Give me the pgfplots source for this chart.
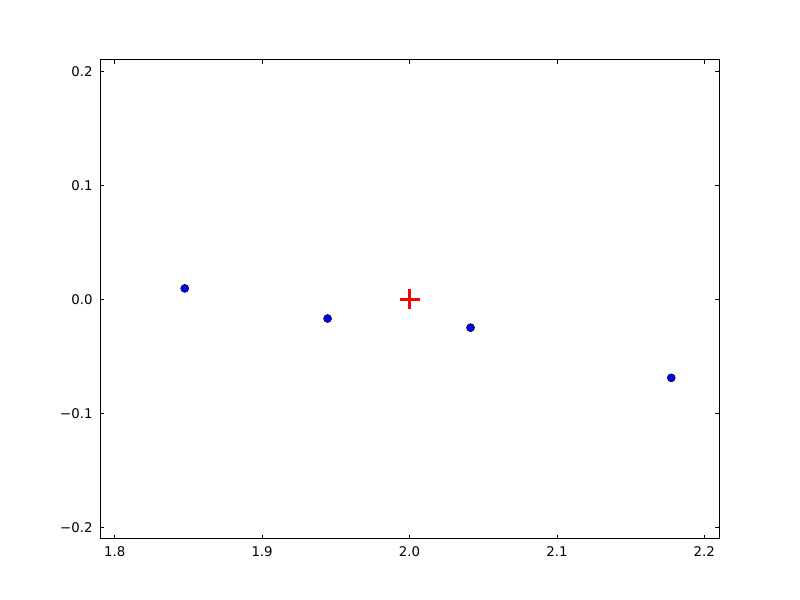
\documentclass[border=0pt]{standalone}
\usepackage{pgfplots}
\pgfplotsset{compat=1.18}
\usepackage{fontspec}
\setmainfont{DejaVu Sans}
\usetikzlibrary{calc}

\begin{document}
\begin{tikzpicture}
\begin{axis}[
  name=ax,
  scale only axis,
  width=464.25pt, height=359.25pt,
  xmin=1.79, xmax=2.21, ymin=-0.21, ymax=0.21,
  xtick={1.8,1.9,2.0,2.1,2.2},
  xticklabels={1.8,1.9,2.0,2.1,2.2},
  ytick={-0.2,-0.1,0,0.1,0.2},
  yticklabels={−0.2,−0.1,0.0,0.1,0.2},
  tick align=inside,
  major tick length=3.3pt,
  tick style={black, line width=0.5pt},
  ticklabel style={font=\fontsize{10}{12}\selectfont},
  axis line style={line width=0.75pt},
  xticklabel shift=2pt, yticklabel shift=2pt,
]
\addplot[only marks, mark=*, mark size=3pt, mark options={fill=blue, draw=black, line width=0.4pt}]
  coordinates {(1.8475,0.0097) (1.9444,-0.0167) (2.0414,-0.0247) (2.1776,-0.0687)};
\addplot[only marks, mark=+, mark size=7.5pt, mark options={draw=red, line width=2.2pt}]
  coordinates {(2.0,0.0)};
\end{axis}
\path ($(ax.south west)+(-75pt,-45.75pt)$) rectangle ($(ax.north east)+(60.75pt,45pt)$);
\end{tikzpicture}
\end{document}
